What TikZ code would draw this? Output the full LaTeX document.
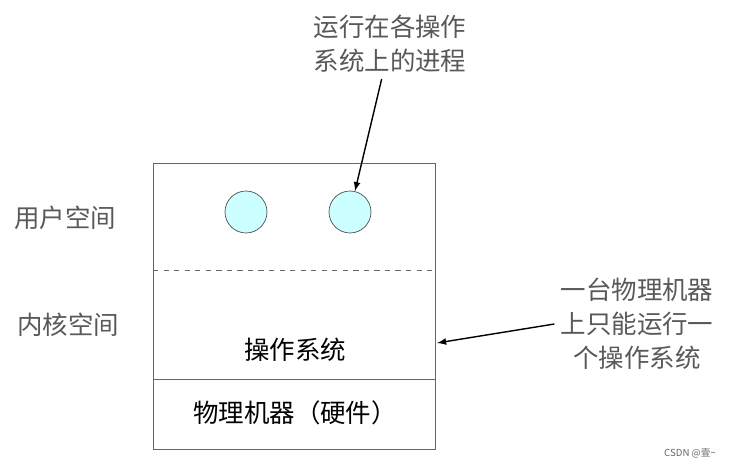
\documentclass[tikz,border=0pt]{standalone}
\usepackage{fontspec}
\setmainfont{Noto Sans CJK SC}
\definecolor{proccyan}{RGB}{204,255,255}
\begin{document}
\begin{tikzpicture}[x=0.02cm,y=-0.02cm,
  lbl/.style={text=black!65,font=\fontsize{14.5}{19.5}\selectfont,align=center},
  proc/.style={shape=circle,draw=black!70,fill=proccyan,minimum size=0.84cm,inner sep=0pt}]
\useasboundingbox (0,0) rectangle (736,469);
% box and layers
\draw[black!60] (153,163) rectangle (435,449);
\draw[black!60,dashed] (153,270) -- (435,270);
\draw[black!60] (153,379) -- (435,379);
\node[proc] (p1) at (246,212) {};
\node[proc] (p2) at (350,212) {};
\node[lbl,text=black] (os) at (295,350) {操作系统};
\node[lbl,text=black] (hw) at (295,413) {物理机器（硬件）};
% side labels
\node[lbl] (user) at (65,218) {用户空间};
\node[lbl] (kern) at (68,325) {内核空间};
\node[lbl] (top) at (390,44) {运行在各操作\\系统上的进程};
\node[lbl] (right) at (637,324) {一台物理机器\\上只能运行一\\个操作系统};
\coordinate (boxr) at (437,343);
\draw[-latex,thick] (top) -- (p2);
\draw[-latex,thick] (right.west) -- (boxr);
\node[text=black!60,font=\fontsize{5.5}{7}\selectfont] (mark) at (690,453) {CSDN @壹\textasciitilde};
\end{tikzpicture}
\end{document}
